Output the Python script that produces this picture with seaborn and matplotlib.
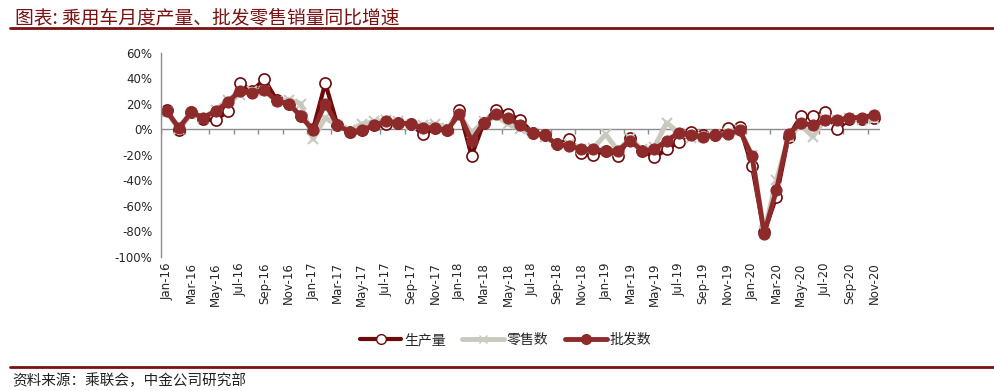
import matplotlib
matplotlib.use('Agg')
import matplotlib.pyplot as plt
from matplotlib.lines import Line2D
import seaborn as sns
import pandas as pd
import numpy as np

# month labels Jan-16 .. Nov-20
months = pd.date_range('2016-01-01', '2020-11-01', freq='MS').strftime('%b-%y').tolist()

# YoY growth (%)
production = [15, -1, 13, 8, 7, 14, 36, 30, 39, 23, 20, 10,
              0, 36, 3, -2, -1, 3, 4, 5, 4, -4, 1, -1,
              15, -21, 5, 15, 12, 7, -3, -5, -12, -8, -19, -20,
              -17, -21, -7, -17, -22, -16, -10, -2, -5, -5, 1, 2,
              -29, -81, -53, -6, 10, 10, 13, 0, 8, 8, 9]
retail = [13, 0, 12, 9, 15, 23, 27, 30, 30, 22, 23, 20,
          -8, 9, 3, -1, 4, 6, 7, 6, 3, 3, 4, 1,
          11, -3, 6, 10, 4, 0, -3, -6, -12, -12, -16, -15,
          -4, -17, -7, -16, -14, 5, -3, -7, -6, -5, -3, -1,
          -20, -80, -40, -6, 3, -6, 8, 7, 9, 7, 8]
wholesale = [14, 1, 13, 9, 14, 21, 30, 28, 31, 22, 20, 10,
             -1, 20, 3, -2, -1, 3, 6, 5, 4, 1, 1, -1,
             12, -9, 5, 12, 9, 3, -3, -5, -12, -13, -16, -16,
             -17, -17, -9, -17, -16, -9, -3, -5, -6, -5, -4, -1,
             -21, -82, -48, -4, 5, 3, 7, 7, 9, 9, 11]

series_names = ['生产量', '零售数', '批发数']

df = pd.DataFrame({'idx': np.arange(len(months)),
                   '生产量': production, '零售数': retail, '批发数': wholesale})

sns.set_style('white')
plt.rcParams['font.family'] = ['DejaVu Sans', 'Noto Sans CJK SC']
cjk = ['Noto Sans CJK SC', 'DejaVu Sans']

c_prod = '#6E0A0A'
c_retail = '#C9C9BF'
c_whole = '#8E2A2A'
c_title = '#7A1010'

fig = plt.figure(figsize=(9.95, 3.91), dpi=100)
ax = fig.add_axes([0.1615, 0.3435, 0.7229, 0.5222])

sns.lineplot(data=df, x='idx', y='生产量', ax=ax, color=c_prod, lw=3,
             marker='o', markersize=8, markerfacecolor='white',
             markeredgecolor=c_prod, markeredgewidth=1.2)
sns.lineplot(data=df, x='idx', y='零售数', ax=ax, color=c_retail, lw=3.5,
             marker='x', markersize=7, markeredgecolor=c_retail, markeredgewidth=1.5)
sns.lineplot(data=df, x='idx', y='批发数', ax=ax, color=c_whole, lw=3.5,
             marker='o', markersize=8, markerfacecolor=c_whole,
             markeredgecolor=c_whole)

ax.set_xlim(-0.5, len(months) - 0.5)
ax.set_ylim(-100, 60)
ax.set_yticks(np.arange(-100, 61, 20))
ax.set_yticklabels([f'{v}%' for v in range(-100, 61, 20)], fontsize=8.5)
ax.set_xticks(np.arange(0, len(months), 2))
ax.set_xticklabels(months[::2], rotation=90, fontsize=8.5)
ax.tick_params(axis='x', length=0, pad=4)
ax.tick_params(axis='y', length=0, pad=6)
ax.set_xlabel('')
ax.set_ylabel('')

for s in ['top', 'right', 'bottom']:
    ax.spines[s].set_visible(False)
ax.spines['left'].set_color('#8C8C8C')
ax.spines['left'].set_linewidth(1)

# category axis crossing at zero with tick marks every two months
ax.axhline(0, color='#8C8C8C', lw=1, zorder=1)
ax.vlines(np.arange(-0.5, len(months), 2), -4, 0, color='#8C8C8C', lw=1, zorder=1)

handles = [
    Line2D([], [], color=c_prod, lw=3, marker='o', markersize=7,
           markerfacecolor='white', markeredgecolor=c_prod),
    Line2D([], [], color=c_retail, lw=3.5, marker='x', markersize=6,
           markeredgecolor=c_retail),
    Line2D([], [], color=c_whole, lw=3.5, marker='o', markersize=7,
           markerfacecolor=c_whole, markeredgecolor=c_whole),
]
fig.legend(handles, series_names, loc='center', bbox_to_anchor=(0.508, 0.13),
           ncol=3, frameon=False, handlelength=3.0, columnspacing=1.2,
           handletextpad=0.2, prop={'family': cjk, 'size': 10})

fig.text(0.015, 0.954, '图表: 乘用车月度产量、批发零售销量同比增速', color=c_title,
         fontsize=13.5, family=cjk, style='italic', va='center', ha='left')
fig.add_artist(Line2D([0.01, 1.0], [0.928, 0.928], color=c_title, lw=2))
fig.add_artist(Line2D([0.01, 1.0], [0.0614, 0.0614], color=c_title, lw=2))
fig.text(0.012, 0.026, '资料来源：乘联会，中金公司研究部', color='#222222',
         fontsize=10.5, family=cjk, style='italic', va='center', ha='left')

fig.savefig('out.png', dpi=100)
